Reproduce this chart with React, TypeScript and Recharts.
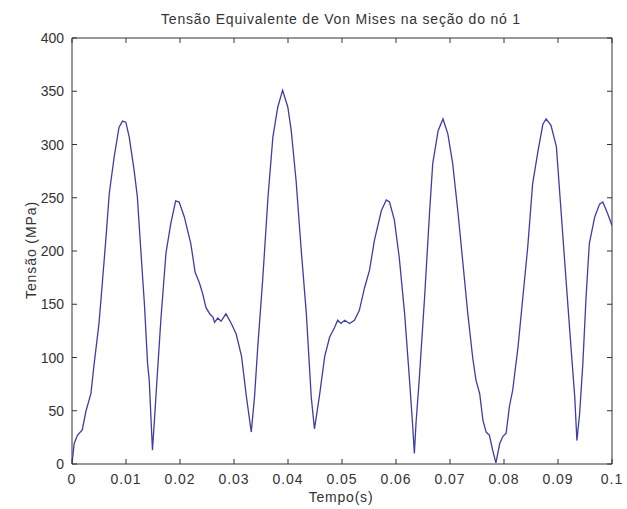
import { LineChart, Line, XAxis, YAxis, ReferenceArea } from 'recharts';

// tempo (s) e tensão (MPa)
const tempo = [
  0, 0.0004, 0.001, 0.0019, 0.0026, 0.0035, 0.0041, 0.005, 0.00565, 0.0063,
  0.0069, 0.0078, 0.0087, 0.00935, 0.00997, 0.0106, 0.0115, 0.0121, 0.0127, 0.0134,
  0.014, 0.0143, 0.0149, 0.0153, 0.0157, 0.01645, 0.0174, 0.0183, 0.0192, 0.01985,
  0.0208, 0.022, 0.0228, 0.0236, 0.0242, 0.0248, 0.0255, 0.0261, 0.0264, 0.027,
  0.0276, 0.0285, 0.0295, 0.0304, 0.0314, 0.0323, 0.0332, 0.0338, 0.0344, 0.0353,
  0.0363, 0.0372, 0.0381, 0.039, 0.03997, 0.0406, 0.0415, 0.0424, 0.0434, 0.0443,
  0.0449, 0.0458, 0.0468, 0.0477, 0.0486, 0.0492, 0.0498, 0.0505, 0.0514, 0.0523,
  0.0532, 0.0542, 0.0551, 0.056, 0.0573, 0.0582, 0.0588, 0.0597, 0.0606, 0.0616,
  0.0625, 0.0631, 0.0634, 0.0637, 0.0643, 0.0653, 0.0662, 0.0668, 0.0678, 0.0687,
  0.0696, 0.0705, 0.0715, 0.0724, 0.0733, 0.0742, 0.0748, 0.0755, 0.0761, 0.0767,
  0.0773, 0.0779, 0.0785, 0.0792, 0.0798, 0.0804, 0.081, 0.0816, 0.0826, 0.0835,
  0.0844, 0.0853, 0.0863, 0.0872, 0.0878, 0.0887, 0.0897, 0.0906, 0.0915, 0.0924,
  0.0931, 0.0935, 0.094, 0.0946, 0.0952, 0.0958, 0.0968, 0.0977, 0.0983, 0.0992,
  0.1,
];
const tensao = [
  0, 19, 27, 32, 50, 66, 94, 132, 172, 213,
  254, 288, 316, 322, 321, 307, 276, 251, 204, 151,
  94, 79, 13, 44, 76, 135, 198, 226, 247, 246,
  232, 207, 180, 170, 160, 147, 141, 138, 133, 137,
  134, 141, 132, 122, 101, 63, 30, 63, 110, 172,
  251, 307, 335, 351, 335, 313, 266, 204, 141, 63,
  33, 63, 101, 119, 128, 135, 132, 135, 132, 135,
  144, 166, 182, 210, 238, 248, 246, 229, 194, 141,
  79, 35, 10, 38, 79, 157, 235, 282, 313, 324,
  310, 282, 235, 188, 141, 100, 79, 66, 41, 30,
  27, 13, 1, 19, 26, 29, 54, 69, 110, 157,
  204, 263, 294, 319, 324, 318, 298, 235, 172, 110,
  63, 22, 47, 94, 157, 207, 232, 244, 246, 235,
  224,
];
const xTicks = [0, 0.01, 0.02, 0.03, 0.04, 0.05, 0.06, 0.07, 0.08, 0.09, 0.1];
const yTicks = [0, 50, 100, 150, 200, 250, 300, 350, 400];

const data = tempo.map((t, i) => ({ t, v: tensao[i] }));

const font = '"Liberation Sans", Arial, sans-serif';
const axisColor = '#333';
const textColor = '#333';
// plot box size, used to mirror the inward ticks on the top and right sides
const PLOT_W = 540;
const PLOT_H = 426;
const TICK = 5;

function XTick(props: any) {
  const { x, y, payload } = props;
  const d = `M${x},${y}v${-TICK}M${x},${y - PLOT_H}v${TICK}`;
  return (
    <g>
      <path d={d} stroke={axisColor} strokeWidth={1} fill="none" />
      <text x={x} y={y + 20} textAnchor="middle" fontSize={14} fill={textColor} fontFamily={font} letterSpacing={1}>
        {String(payload.value)}
      </text>
    </g>
  );
}

function YTick(props: any) {
  const { x, y, payload } = props;
  const d = `M${x},${y}h${TICK}M${x + PLOT_W},${y}h${-TICK}`;
  return (
    <g>
      <path d={d} stroke={axisColor} strokeWidth={1} fill="none" />
      <text x={x - 8} y={y + 5} textAnchor="end" fontSize={14} fill={textColor} fontFamily={font}>
        {String(payload.value)}
      </text>
    </g>
  );
}

export default function App() {
  return (
    <div style={{ position: 'absolute', left: 0, top: 0, width: 627, height: 509, background: '#fff', fontFamily: font }}>
      <div style={{ position: 'absolute', left: 341, top: 11, transform: 'translateX(-50%)', fontSize: 14, lineHeight: '16px', letterSpacing: 0.8, color: textColor, whiteSpace: 'nowrap' }}>
        Tensão Equivalente de Von Mises na seção do nó 1
      </div>
      <div style={{ position: 'absolute', left: 31, top: 250, transform: 'translate(-50%, -50%) rotate(-90deg)', fontSize: 14, lineHeight: '16px', letterSpacing: 0.9, color: textColor, whiteSpace: 'nowrap' }}>
        Tensão (MPa)
      </div>
      <div style={{ position: 'absolute', left: 341, top: 489, transform: 'translateX(-50%)', fontSize: 14, lineHeight: '16px', letterSpacing: 0.8, color: textColor, whiteSpace: 'nowrap' }}>
        Tempo(s)
      </div>
      <LineChart width={627} height={509} data={data} margin={{ top: 38, right: 15, bottom: 15, left: 0 }}>
        <XAxis
          dataKey="t"
          type="number"
          domain={[0, 0.1]}
          ticks={xTicks}
          height={30}
          tickSize={0}
          tickMargin={0}
          tickLine={false}
          axisLine={false}
          tick={<XTick />}
          allowDataOverflow
        />
        <YAxis
          type="number"
          domain={[0, 400]}
          ticks={yTicks}
          width={72}
          tickSize={0}
          tickMargin={0}
          tickLine={false}
          axisLine={false}
          tick={<YTick />}
          allowDataOverflow
        />
        <ReferenceArea x1={0} x2={0.1} y1={0} y2={400} fill="none" fillOpacity={0} stroke={axisColor} strokeWidth={1} strokeOpacity={1} />
        <Line
          type="linear"
          dataKey="v"
          stroke="#3d3da5"
          strokeWidth={1.3}
          dot={false}
          activeDot={false}
          isAnimationActive={false}
        />
      </LineChart>
    </div>
  );
}
